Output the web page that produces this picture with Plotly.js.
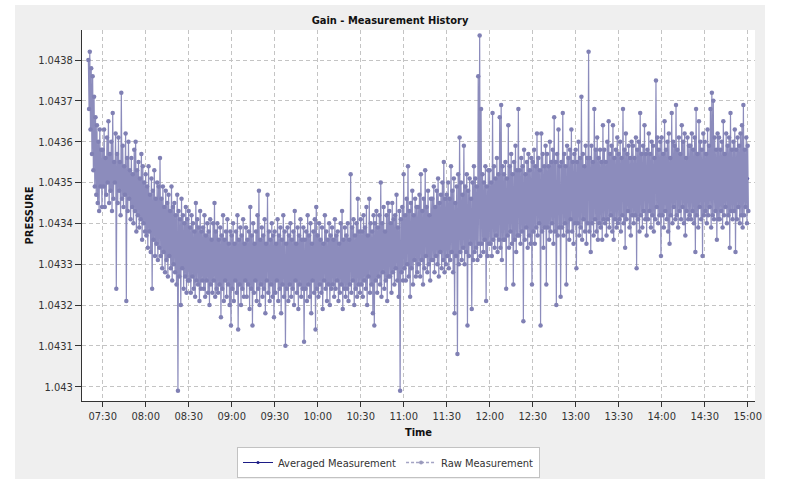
<!DOCTYPE html>
<html><head><meta charset="utf-8">
<script src="https://cdn.plot.ly/plotly-3.0.1.min.js"></script>
<style>html,body{margin:0;padding:0;background:#fff}#chart{width:790px;height:479px}</style>
</head><body><div id="chart"></div>
<script>
const chartTitle = 'Gain - Measurement History';
const xTitle = 'Time';
const yTitle = 'PRESSURE';
const seriesNames = ['Averaged Measurement', 'Raw Measurement'];

// Raw measurement read minute by minute from 07:20: the highest and the lowest
// sample of each minute (highs taken at :00, lows at :30 of the minute).
const rawStartUTC = Date.UTC(2024, 0, 1, 7, 20);
const rawUpper = [
1.04380,1.04382,1.04378,1.04376,1.04371,1.04366,1.04364,1.04360,1.04363,1.04358,
1.04358,1.04363,1.04356,1.04361,1.04365,1.04357,1.04360,1.04367,1.04355,1.04362,
1.04357,1.04361,1.04355,1.04372,1.04359,1.04354,1.04362,1.04356,1.04360,1.04353,
1.04356,1.04352,1.04358,1.04360,1.04353,1.04355,1.04351,1.04357,1.04354,1.04350,
1.04352,1.04349,1.04354,1.04347,1.04351,1.04348,1.04353,1.04346,1.04350,1.04349,
1.04356,1.04346,1.04349,1.04344,1.04348,1.04345,1.04347,1.04343,1.04349,1.04344,
1.04345,1.04342,1.04347,1.04343,1.04341,1.04346,1.04342,1.04340,1.04344,1.04341,
1.04343,1.04339,1.04342,1.04340,1.04338,1.04345,1.04341,1.04339,1.04343,1.04338,
1.04339,1.04342,1.04337,1.04340,1.04338,1.04341,1.04336,1.04340,1.04345,1.04338,
1.04340,1.04336,1.04339,1.04337,1.04342,1.04336,1.04338,1.04341,1.04335,1.04338,
1.04337,1.04340,1.04335,1.04338,1.04342,1.04336,1.04339,1.04337,1.04341,1.04335,
1.04339,1.04336,1.04338,1.04344,1.04337,1.04340,1.04335,1.04338,1.04342,1.04348,
1.04336,1.04339,1.04337,1.04341,1.04335,1.04347,1.04338,1.04336,1.04340,1.04337,
1.04338,1.04335,1.04341,1.04337,1.04339,1.04336,1.04342,1.04338,1.04335,1.04339,
1.04337,1.04340,1.04336,1.04338,1.04343,1.04335,1.04339,1.04337,1.04341,1.04336,
1.04339,1.04336,1.04338,1.04342,1.04337,1.04340,1.04335,1.04338,1.04341,1.04344,
1.04337,1.04340,1.04336,1.04339,1.04335,1.04342,1.04338,1.04336,1.04340,1.04337,
1.04339,1.04336,1.04341,1.04337,1.04338,1.04335,1.04340,1.04343,1.04336,1.04339,
1.04337,1.04340,1.04336,1.04352,1.04339,1.04341,1.04337,1.04340,1.04346,1.04338,
1.04341,1.04338,1.04342,1.04339,1.04344,1.04337,1.04346,1.04340,1.04338,1.04342,
1.04340,1.04343,1.04339,1.04342,1.04350,1.04340,1.04344,1.04338,1.04342,1.04345,
1.04343,1.04340,1.04345,1.04341,1.04342,1.04347,1.04339,1.04343,1.04341,1.04344,
1.04352,1.04342,1.04346,1.04354,1.04343,1.04345,1.04348,1.04342,1.04346,1.04344,
1.04344,1.04347,1.04352,1.04343,1.04346,1.04353,1.04344,1.04348,1.04342,1.04346,
1.04346,1.04349,1.04344,1.04348,1.04351,1.04345,1.04347,1.04350,1.04355,1.04346,
1.04347,1.04350,1.04346,1.04354,1.04348,1.04351,1.04345,1.04349,1.04352,1.04361,
1.04350,1.04347,1.04359,1.04349,1.04352,1.04348,1.04351,1.04346,1.04350,1.04354,
1.04351,1.04349,1.04376,1.04386,1.04368,1.04352,1.04350,1.04354,1.04349,1.04353,
1.04353,1.04350,1.04367,1.04354,1.04351,1.04356,1.04352,1.04366,1.04369,1.04354,
1.04352,1.04355,1.04351,1.04364,1.04354,1.04357,1.04352,1.04355,1.04359,1.04353,
1.04368,1.04353,1.04356,1.04354,1.04358,1.04352,1.04355,1.04357,1.04353,1.04356,
1.04355,1.04358,1.04354,1.04362,1.04356,1.04353,1.04362,1.04357,1.04354,1.04359,
1.04357,1.04354,1.04360,1.04355,1.04358,1.04366,1.04355,1.04357,1.04363,1.04354,
1.04355,1.04367,1.04357,1.04354,1.04359,1.04356,1.04358,1.04363,1.04355,1.04357,
1.04358,1.04355,1.04360,1.04356,1.04371,1.04357,1.04354,1.04359,1.04356,1.04382,
1.04356,1.04359,1.04355,1.04368,1.04358,1.04361,1.04356,1.04358,1.04355,1.04364,
1.04358,1.04355,1.04360,1.04365,1.04357,1.04359,1.04364,1.04356,1.04358,1.04361,
1.04357,1.04360,1.04356,1.04368,1.04358,1.04362,1.04357,1.04359,1.04356,1.04360,
1.04359,1.04356,1.04361,1.04358,1.04360,1.04367,1.04357,1.04359,1.04364,1.04357,
1.04358,1.04362,1.04357,1.04360,1.04359,1.04356,1.04375,1.04361,1.04358,1.04360,
1.04361,1.04357,1.04365,1.04358,1.04360,1.04362,1.04356,1.04367,1.04360,1.04359,
1.04369,1.04358,1.04361,1.04357,1.04364,1.04360,1.04362,1.04356,1.04361,1.04359,
1.04359,1.04362,1.04358,1.04361,1.04368,1.04357,1.04365,1.04360,1.04358,1.04362,
1.04360,1.04357,1.04363,1.04359,1.04368,1.04372,1.04370,1.04361,1.04358,1.04362,
1.04361,1.04358,1.04360,1.04365,1.04357,1.04362,1.04359,1.04361,1.04367,1.04358,
1.04360,1.04363,1.04358,1.04361,1.04359,1.04362,1.04364,1.04369,1.04358,1.04361,
1.04359
];
const rawLower = [
1.04368,1.04363,1.04357,1.04353,1.04349,1.04347,1.04345,1.04343,1.04349,1.04344,
1.04349,1.04344,1.04347,1.04350,1.04345,1.04348,1.04343,1.04346,1.04350,1.04324,
1.04345,1.04348,1.04342,1.04346,1.04344,1.04347,1.04321,1.04343,1.04346,1.04341,
1.04344,1.04340,1.04343,1.04338,1.04342,1.04339,1.04341,1.04336,1.04340,1.04338,
1.04337,1.04334,1.04338,1.04333,1.04324,1.04336,1.04332,1.04335,1.04331,1.04334,
1.04332,1.04329,1.04333,1.04328,1.04331,1.04327,1.04332,1.04329,1.04326,1.04330,
1.04328,1.04325,1.04299,1.04327,1.04320,1.04329,1.04324,1.04327,1.04323,1.04326,
1.04326,1.04323,1.04327,1.04324,1.04322,1.04326,1.04325,1.04321,1.04324,1.04326,
1.04324,1.04322,1.04326,1.04323,1.04320,1.04325,1.04323,1.04326,1.04322,1.04324,
1.04323,1.04325,1.04317,1.04324,1.04321,1.04326,1.04322,1.04325,1.04320,1.04315,
1.04324,1.04321,1.04326,1.04323,1.04314,1.04325,1.04320,1.04324,1.04322,1.04326,
1.04322,1.04325,1.04319,1.04324,1.04315,1.04323,1.04326,1.04321,1.04324,1.04320,
1.04325,1.04322,1.04324,1.04318,1.04326,1.04323,1.04321,1.04325,1.04322,1.04317,
1.04323,1.04326,1.04321,1.04324,1.04318,1.04325,1.04322,1.04310,1.04324,1.04321,
1.04325,1.04322,1.04324,1.04320,1.04326,1.04323,1.04319,1.04325,1.04322,1.04324,
1.04311,1.04324,1.04321,1.04325,1.04322,1.04318,1.04326,1.04323,1.04314,1.04324,
1.04322,1.04325,1.04323,1.04319,1.04326,1.04324,1.04321,1.04325,1.04320,1.04324,
1.04325,1.04322,1.04324,1.04326,1.04321,1.04323,1.04325,1.04319,1.04324,1.04322,
1.04324,1.04321,1.04325,1.04323,1.04326,1.04320,1.04324,1.04322,1.04325,1.04323,
1.04325,1.04322,1.04326,1.04324,1.04320,1.04327,1.04323,1.04325,1.04318,1.04315,
1.04326,1.04323,1.04327,1.04325,1.04322,1.04328,1.04324,1.04326,1.04321,1.04327,
1.04327,1.04323,1.04328,1.04325,1.04329,1.04326,1.04322,1.04299,1.04328,1.04326,
1.04329,1.04326,1.04330,1.04327,1.04322,1.04329,1.04325,1.04331,1.04327,1.04328,
1.04330,1.04327,1.04331,1.04325,1.04329,1.04332,1.04328,1.04330,1.04326,1.04331,
1.04331,1.04328,1.04332,1.04330,1.04327,1.04333,1.04329,1.04331,1.04328,1.04330,
1.04332,1.04329,1.04331,1.04333,1.04328,1.04318,1.04332,1.04308,1.04330,1.04333,
1.04331,1.04334,1.04330,1.04333,1.04315,1.04332,1.04335,1.04319,1.04331,1.04333,
1.04334,1.04331,1.04335,1.04332,1.04335,1.04333,1.04336,1.04321,1.04332,1.04335,
1.04335,1.04332,1.04336,1.04334,1.04337,1.04333,1.04336,1.04334,1.04331,1.04336,
1.04336,1.04324,1.04337,1.04334,1.04338,1.04335,1.04325,1.04336,1.04333,1.04337,
1.04337,1.04335,1.04338,1.04316,1.04336,1.04339,1.04334,1.04337,1.04335,1.04325,
1.04338,1.04335,1.04339,1.04337,1.04340,1.04315,1.04338,1.04334,1.04339,1.04325,
1.04339,1.04336,1.04338,1.04340,1.04335,1.04338,1.04320,1.04337,1.04339,1.04322,
1.04339,1.04337,1.04340,1.04325,1.04338,1.04336,1.04341,1.04338,1.04335,1.04340,
1.04329,1.04340,1.04337,1.04339,1.04336,1.04341,1.04338,1.04335,1.04340,1.04338,
1.04333,1.04340,1.04337,1.04341,1.04338,1.04336,1.04340,1.04339,1.04336,1.04341,
1.04340,1.04337,1.04341,1.04339,1.04342,1.04338,1.04336,1.04341,1.04339,1.04340,
1.04341,1.04338,1.04342,1.04340,1.04334,1.04341,1.04343,1.04339,1.04337,1.04342,
1.04340,1.04342,1.04329,1.04341,1.04338,1.04342,1.04339,1.04343,1.04341,1.04337,
1.04341,1.04343,1.04339,1.04342,1.04338,1.04341,1.04344,1.04340,1.04342,1.04332,
1.04342,1.04339,1.04343,1.04341,1.04338,1.04335,1.04342,1.04340,1.04344,1.04341,
1.04342,1.04339,1.04343,1.04341,1.04344,1.04340,1.04337,1.04343,1.04341,1.04342,
1.04341,1.04343,1.04340,1.04333,1.04342,1.04339,1.04344,1.04341,1.04332,1.04342,
1.04343,1.04340,1.04342,1.04344,1.04339,1.04342,1.04341,1.04343,1.04336,1.04341,
1.04341,1.04343,1.04339,1.04342,1.04344,1.04340,1.04342,1.04334,1.04343,1.04341,
1.04343,1.04333,1.04341,1.04344,1.04340,1.04342,1.04339,1.04342,1.04344,1.04340,
1.04343
];

// Averaged measurement (half-hour averages, drawn beneath the raw samples)
const avgTimes = ['07:30','08:00','08:30','09:00','09:30','10:00','10:30','11:00','11:30','12:00','12:30','13:00','13:30','14:00','14:30','15:00'];
const avgValues = [1.04354,1.04343,1.04334,1.04331,1.04331,1.04331,1.04332,1.04336,1.04340,1.04344,1.04347,1.04348,1.04349,1.04350,1.04351,1.04351];

const yTickValues = [1.043,1.0431,1.0432,1.0433,1.0434,1.0435,1.0436,1.0437,1.0438];
const yTickLabels = ['1.043','1.0431','1.0432','1.0433','1.0434','1.0435','1.0436','1.0437','1.0438'];

const fmt = ms => new Date(ms).toISOString().slice(0,19).replace('T',' ');
const rawX = [], rawY = [];
rawUpper.forEach((hi, i) => {
  const t = rawStartUTC + i * 60000;
  rawX.push(fmt(t)); rawY.push(hi);
  rawX.push(fmt(t + 30000)); rawY.push(rawLower[i]);
});
const avgX = avgTimes.map(t => '2024-01-01 ' + t);

const FONT = '"DejaVu Sans Condensed", "DejaVu Sans", sans-serif';

const traces = [
  {x: avgX, y: avgValues, name: seriesNames[0], type: 'scatter', mode: 'lines+markers',
   line: {color: '#1c1c86', width: 1}, marker: {color: '#1c1c86', size: 3}},
  {x: rawX, y: rawY, name: seriesNames[1], type: 'scatter', mode: 'lines+markers',
   showlegend: false, line: {color: 'rgb(140,140,188)', width: 1.2},
   marker: {color: 'rgb(128,128,180)', size: 4.5}},
  {x: [null], y: [null], name: seriesNames[1], type: 'scatter', mode: 'lines+markers',
   line: {color: '#a4a4c4', width: 1.5, dash: '3px,2px'}, marker: {color: '#9a9abc', size: 4}}
];

const L = 82, R = 755, T = 30, B = 401;
const pw = R - L, ph = B - T;

const layout = {
  width: 790, height: 479,
  margin: {l: L, r: 790 - R, t: T, b: 479 - B},
  paper_bgcolor: '#ffffff', plot_bgcolor: '#ffffff',
  font: {family: FONT, size: 11, color: '#333'},
  title: {text: chartTitle, font: {family: FONT, size: 11, color: '#111', weight: 'bold'},
          x: 390/790, xref: 'container', xanchor: 'center', y: 1 - 20/479, yref: 'container', yanchor: 'middle'},
  shapes: [
    {type: 'rect', xref: 'paper', yref: 'paper', layer: 'below',
     x0: (15 - L)/pw, x1: (765 - L)/pw, y0: (B - 490)/ph, y1: (B - 5)/ph,
     fillcolor: '#efefef', line: {width: 0}},
    {type: 'rect', xref: 'paper', yref: 'paper', layer: 'below',
     x0: 0, x1: 1, y0: 0, y1: 1, fillcolor: '#ffffff', line: {width: 0}}
  ],
  xaxis: {
    type: 'date', range: ['2024-01-01 07:15:34', '2024-01-01 15:05:06'],
    tick0: '2024-01-01 07:30', dtick: 1800000, tickformat: '%H:%M',
    ticks: 'outside', ticklen: 5, tickcolor: '#333', tickfont: {size: 11, color: '#333'},
    showline: true, linecolor: '#333', linewidth: 1, mirror: false,
    showgrid: true, gridcolor: '#c4c4c4', griddash: '4px,3px', gridwidth: 1, zeroline: false,
    title: {text: xTitle, font: {size: 11, color: '#111', weight: 'bold'}, standoff: 6}
  },
  yaxis: {
    range: [1.042965, 1.0438735],
    tickmode: 'array', tickvals: yTickValues, ticktext: yTickLabels,
    ticks: 'outside', ticklen: 6, tickcolor: '#333', tickfont: {size: 11, color: '#333'},
    showline: true, linecolor: '#333', linewidth: 1,
    showgrid: true, gridcolor: '#c4c4c4', griddash: '4px,3px', gridwidth: 1, zeroline: false,
    title: {text: yTitle, font: {size: 11, color: '#111', weight: 'bold'}, standoff: 2}
  },
  showlegend: true,
  legend: {orientation: 'h', xref: 'container', x: 388.5/790, xanchor: 'center',
           yref: 'container', y: 1 - 447/479, yanchor: 'top',
           bgcolor: '#ffffff', bordercolor: '#c2c2c2', borderwidth: 1,
           font: {size: 11, color: '#333'}, itemwidth: 30, tracegroupgap: 0}
};

Plotly.newPlot('chart', traces, layout, {displayModeBar: false, staticPlot: true});
</script>
</body></html>
